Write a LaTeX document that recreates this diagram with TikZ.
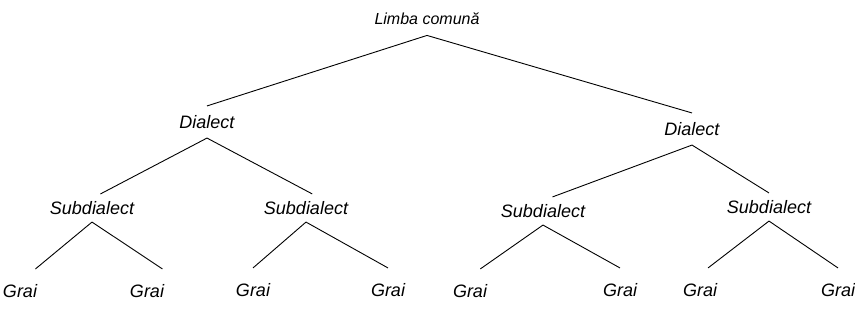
\documentclass[tikz,border=0pt]{standalone}
\usepackage{fontspec}
\setmainfont{Liberation Sans}

\begin{document}
\begin{tikzpicture}[x=1pt, y=-1pt, line width=0.9pt]
            \tikzset{lbl/.style={font=\fontsize{18}{20}\selectfont\itshape, inner xsep=4pt, inner ysep=7pt},
                     toplbl/.style={lbl, font=\fontsize{16}{18}\selectfont\itshape, inner ysep=10pt},
                     dialbl/.style={lbl, inner ysep=9pt},
                     leaflbl/.style={lbl, inner ysep=15pt}}
            \useasboundingbox (0,0) rectangle (855,325);
            % ==== ROOT ====
            \node[toplbl] (root) at (427,19) {Limba comună};
            % ==== DIALECTS ====
            \node[dialbl] (dl) at (207,122) {Dialect};
            \node[dialbl] (dr) at (692,129) {Dialect};
            % ==== SUBDIALECTS ====
            \node[lbl] (s1) at (92,208) {Subdialect};
            \node[lbl] (s2) at (306,208) {Subdialect};
            \node[lbl] (s3) at (543,211) {Subdialect};
            \node[lbl] (s4) at (769,207) {Subdialect};
            % ==== GRAIURI ====
            \node[leaflbl] (g1) at (20,291) {Grai};
            \node[leaflbl] (g2) at (147,291) {Grai};
            \node[leaflbl] (g3) at (253,290) {Grai};
            \node[leaflbl] (g4) at (388,290) {Grai};
            \node[leaflbl] (g5) at (470,291) {Grai};
            \node[leaflbl] (g6) at (620,290) {Grai};
            \node[leaflbl] (g7) at (700,290) {Grai};
            \node[leaflbl] (g8) at (838,290) {Grai};
            % ==== BRANCHES ====
            \draw (root.south) -- (dl.north);
            \draw (root.south) -- (dr.north);
            \draw (dl.south) -- (s1.59);
            \draw (dl.south) -- (s2.66);
            \draw (dr.south) -- (s3.56);
            \draw (dr.south) -- (s4.north);
            \draw (s1.south) -- (g1.55);
            \draw (s1.south) -- (g2.55);
            \draw (s2.south) -- (g3.north);
            \draw (s2.south) -- (g4.north);
            \draw (s3.south) -- (g5.65);
            \draw (s3.south) -- (g6.north);
            \draw (s4.south) -- (g7.70);
            \draw (s4.south) -- (g8.north);
\end{tikzpicture}
\end{document}
